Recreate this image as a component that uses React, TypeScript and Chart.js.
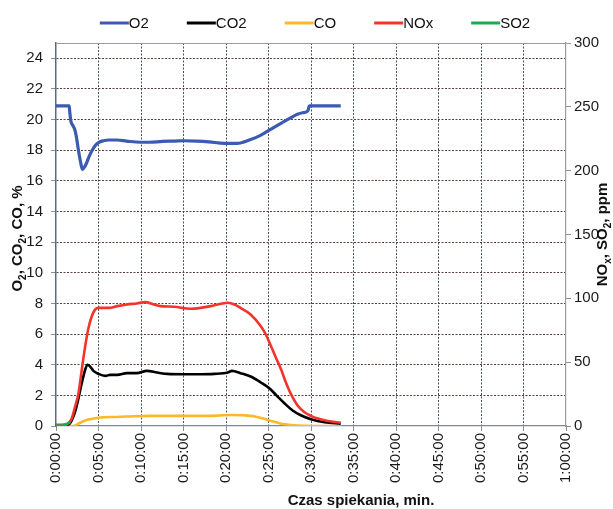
import React, { useEffect, useRef } from "react";
import { Chart, registerables } from "chart.js";

Chart.register(...registerables);

// Time in minutes, values in % (O2, CO2, CO) or ppm (NOx, SO2)
const O2_T = [0, 1.55, 1.62, 1.75, 2.0, 2.24, 2.45, 2.64, 2.9, 3.11, 3.35, 3.62, 3.9, 4.21, 4.6, 5.0, 5.6, 6.2, 7.2, 8.3, 9.9, 11.0, 12.5, 14.0, 15.0, 16.5, 18.0, 19.8, 21.3, 22.9, 24.0, 24.9, 26.0, 26.9, 27.7, 28.4, 29.0, 29.6, 29.7, 29.8, 33.5];
const O2_V = [20.9, 20.9, 20.5, 19.9, 19.6, 19.3, 18.7, 18.0, 17.2, 16.75, 16.9, 17.2, 17.6, 17.95, 18.3, 18.5, 18.62, 18.67, 18.67, 18.6, 18.52, 18.52, 18.58, 18.6, 18.62, 18.6, 18.55, 18.45, 18.45, 18.7, 18.95, 19.24, 19.6, 19.9, 20.15, 20.35, 20.45, 20.55, 20.7, 20.9, 20.9];

const CO2_T = [0, 1.46, 1.85, 2.24, 2.64, 3.03, 3.43, 3.7, 4.0, 4.4, 5.0, 5.8, 6.4, 7.2, 8.35, 9.5, 10.7, 11.9, 13.1, 15.0, 17.0, 18.6, 20.2, 20.7, 21.7, 22.9, 24.1, 25.1, 25.9, 26.9, 27.8, 28.8, 30.0, 31.6, 33.5];
const CO2_V = [0.04, 0.1, 0.37, 0.92, 1.8, 2.79, 3.67, 4.0, 3.89, 3.6, 3.4, 3.27, 3.34, 3.34, 3.45, 3.45, 3.6, 3.49, 3.4, 3.38, 3.38, 3.4, 3.49, 3.6, 3.45, 3.23, 2.84, 2.46, 2.02, 1.47, 1.03, 0.7, 0.44, 0.24, 0.15];

const CO_T = [0, 2.05, 2.64, 3.23, 3.82, 4.6, 5.6, 7.2, 9.1, 11.1, 15.0, 19.0, 20.55, 22.1, 23.3, 24.3, 25.3, 26.5, 27.6, 29.2, 33.5];
const CO_V = [0, 0, 0.15, 0.31, 0.42, 0.5, 0.57, 0.59, 0.64, 0.66, 0.66, 0.68, 0.72, 0.7, 0.64, 0.5, 0.33, 0.15, 0.07, 0.02, 0];

const NOX_T = [0, 1.2, 1.46, 1.85, 2.24, 2.64, 3.03, 3.43, 3.82, 4.21, 4.6, 5.0, 6.2, 7.2, 8.35, 9.5, 10.5, 11.5, 12.3, 13.9, 15.8, 17.0, 18.2, 19.4, 20.2, 21.0, 21.7, 22.9, 24.1, 24.7, 25.3, 25.9, 26.5, 27.0, 27.6, 28.4, 29.2, 30.0, 30.8, 32.0, 33.5];
const NOX_V = [1, 1, 2, 5.8, 15, 25.5, 44, 62.4, 76.8, 86, 91.2, 92.5, 92.5, 93.9, 95.2, 96, 97, 95.2, 93.9, 93.4, 91.8, 92.5, 93.9, 95.7, 96.5, 95.2, 92.5, 87.4, 78.1, 71.5, 62.4, 53.1, 44, 34.8, 25.5, 16.3, 11, 7.9, 5.8, 3.9, 2.6];

const SO2_T = [0, 0.8, 1.1, 1.3, 1.5, 1.7];
const SO2_V = [0.3, 0.3, 1, 1.6, 2.6, 3];

const LEFT_TICKS = [0, 2, 4, 6, 8, 10, 12, 14, 16, 18, 20, 22, 24];
const LEFT_MAX = 25;
const RIGHT_MAX = 300;
const X_MAX = 60;

const FONT = '"Liberation Sans", Arial, Helvetica, sans-serif';

function pts(t: number[], v: number[]) {
  return t.map((x, i) => ({ x, y: v[i] }));
}

function fmtTime(v: number) {
  const h = Math.floor(v / 60);
  const m = Math.round(v % 60);
  return `${h}:${String(m).padStart(2, "0")}:00`;
}

type Part = [string, boolean];

function drawRich(ctx: CanvasRenderingContext2D, parts: Part[], cx: number, cy: number, rot: number) {
  ctx.save();
  ctx.translate(cx, cy);
  ctx.rotate(rot);
  const big = `bold 15px ${FONT}`;
  const small = `bold 10px ${FONT}`;
  let total = 0;
  for (const [t, sub] of parts) {
    ctx.font = sub ? small : big;
    total += ctx.measureText(t).width;
  }
  let x = -total / 2;
  ctx.fillStyle = "#111";
  ctx.textBaseline = "middle";
  ctx.textAlign = "left";
  for (const [t, sub] of parts) {
    ctx.font = sub ? small : big;
    ctx.fillText(t, x, sub ? 5 : 0);
    x += ctx.measureText(t).width;
  }
  ctx.restore();
}

const decorPlugin = {
  id: "decor",
  beforeDatasetsDraw(chart: any) {
    const { ctx, chartArea: a } = chart;
    ctx.save();
    ctx.strokeStyle = "#9a9a9a";
    ctx.lineWidth = 1.2;
    ctx.beginPath();
    ctx.moveTo(a.left, a.top + 0.5);
    ctx.lineTo(a.right + 5, a.top + 0.5);
    ctx.stroke();
    ctx.restore();
  },
  afterDraw(chart: any) {
    const { ctx, chartArea: a } = chart;
    const cy = (a.top + a.bottom) / 2;
    // Axis titles
    drawRich(ctx, [["O", false], ["2", true], [", CO", false], ["2", true], [", CO, %", false]], a.left - 38, cy + 4, -Math.PI / 2);
    drawRich(ctx, [["NO", false], ["x", true], [", SO", false], ["2", true], [", ppm", false]], a.right + 37, cy, -Math.PI / 2);
    ctx.save();
    ctx.font = `bold 15px ${FONT}`;
    ctx.fillStyle = "#111";
    ctx.textAlign = "center";
    ctx.textBaseline = "middle";
    ctx.fillText("Czas spiekania, min.", (a.left + a.right) / 2 + 50, a.bottom + 75);
    ctx.restore();

    // Legend
    ctx.save();
    ctx.font = `15px ${FONT}`;
    ctx.textBaseline = "middle";
    ctx.textAlign = "left";
    const ds = chart.data.datasets;
    const lineW = 29;
    const gap = 38;
    const widths = ds.map((d: any) => lineW + ctx.measureText(d.label).width);
    const total = widths.reduce((s: number, w: number) => s + w, 0) + gap * (ds.length - 1);
    let x = (a.left + a.right) / 2 + 4 - total / 2;
    const y = a.top - 20;
    ds.forEach((d: any, i: number) => {
      ctx.strokeStyle = d.borderColor;
      ctx.lineWidth = 3;
      ctx.beginPath();
      ctx.moveTo(x, y);
      ctx.lineTo(x + lineW, y);
      ctx.stroke();
      ctx.fillStyle = "#111";
      ctx.fillText(d.label, x + lineW, y + 1);
      x += widths[i] + gap;
    });
    ctx.restore();
  },
};

export default function App() {
  const ref = useRef<HTMLCanvasElement | null>(null);

  useEffect(() => {
    if (!ref.current) return;
    const tickFont = { family: FONT, size: 15 };
    const common = { pointRadius: 0, fill: false, cubicInterpolationMode: "monotone" as const };
    const chart = new Chart(ref.current, {
      type: "line",
      data: {
        datasets: [
          { ...common, label: "O2", data: pts(O2_T, O2_V), borderColor: "#3B5BB2", borderWidth: 3.2, yAxisID: "y", order: 4 },
          { ...common, label: "CO2", data: pts(CO2_T, CO2_V), borderColor: "#000000", borderWidth: 2.6, yAxisID: "y", order: 2 },
          { ...common, label: "CO", data: pts(CO_T, CO_V), borderColor: "#FBB829", borderWidth: 2.6, yAxisID: "y", order: 3 },
          { ...common, label: "NOx", data: pts(NOX_T, NOX_V), borderColor: "#F2342A", borderWidth: 2.6, yAxisID: "y1", order: 1 },
          { ...common, label: "SO2", data: pts(SO2_T, SO2_V), borderColor: "#1DAA4E", borderWidth: 2.6, yAxisID: "y1", order: 0 },
        ],
      },
      options: {
        responsive: false,
        animation: false,
        events: [],
        layout: { padding: { top: 43, left: 0, right: 0, bottom: 0 } },
        plugins: { legend: { display: false }, tooltip: { enabled: false }, title: { display: false } },
        scales: {
          x: {
            type: "linear",
            min: 0,
            max: X_MAX,
            ticks: {
              stepSize: 5,
              minRotation: 90,
              maxRotation: 90,
              padding: 2,
              font: tickFont,
              color: "#1a1a1a",
              callback: (v: any) => fmtTime(Number(v)),
            },
            grid: {
              color: (c: any) => (c.tick && (c.tick.value === 0 || c.tick.value === X_MAX) ? "rgba(0,0,0,0)" : "#46505f"),
              lineWidth: 1,
              tickLength: 5,
              tickColor: "#8a8f99",
            },
            border: { color: "#7d8799", width: 1.2, dash: (c: any) => (c.tick ? [2, 1.5] : []) },
            afterFit: (s: any) => {
              s.height = 83;
            },
          },
          y: {
            position: "left",
            min: 0,
            max: LEFT_MAX,
            afterBuildTicks: (s: any) => {
              s.ticks = LEFT_TICKS.map((v) => ({ value: v }));
            },
            ticks: {
              padding: 8,
              font: tickFont,
              color: "#1a1a1a",
            },
            grid: {
              color: (c: any) => (c.tick && c.tick.value === 0 ? "rgba(0,0,0,0)" : "#5a3c3c"),
              lineWidth: 1,
              tickLength: 5,
              tickColor: "#8a8f99",
            },
            border: {
              color: "#5a6a85",
              width: 1.5,
              dash: (c: any) => (c.tick ? [2, 1.5] : []),
            },
            afterFit: (s: any) => {
              s.width = 56;
            },
          },
          y1: {
            position: "right",
            min: 0,
            max: RIGHT_MAX,
            ticks: { stepSize: 50, padding: 3, font: tickFont, color: "#1a1a1a" },
            grid: { drawOnChartArea: false, tickLength: 5, tickColor: "#8a8f99" },
            border: { color: "#9a9a9a", width: 1.2 },
            afterFit: (s: any) => {
              s.width = 47;
            },
          },
        },
      },
      plugins: [decorPlugin],
    });
    return () => chart.destroy();
  }, []);

  return (
    <div style={{ position: "absolute", left: 0, top: 0, width: 613, height: 509, background: "#fff" }}>
      <canvas ref={ref} width={613} height={509} style={{ display: "block" }} />
    </div>
  );
}
